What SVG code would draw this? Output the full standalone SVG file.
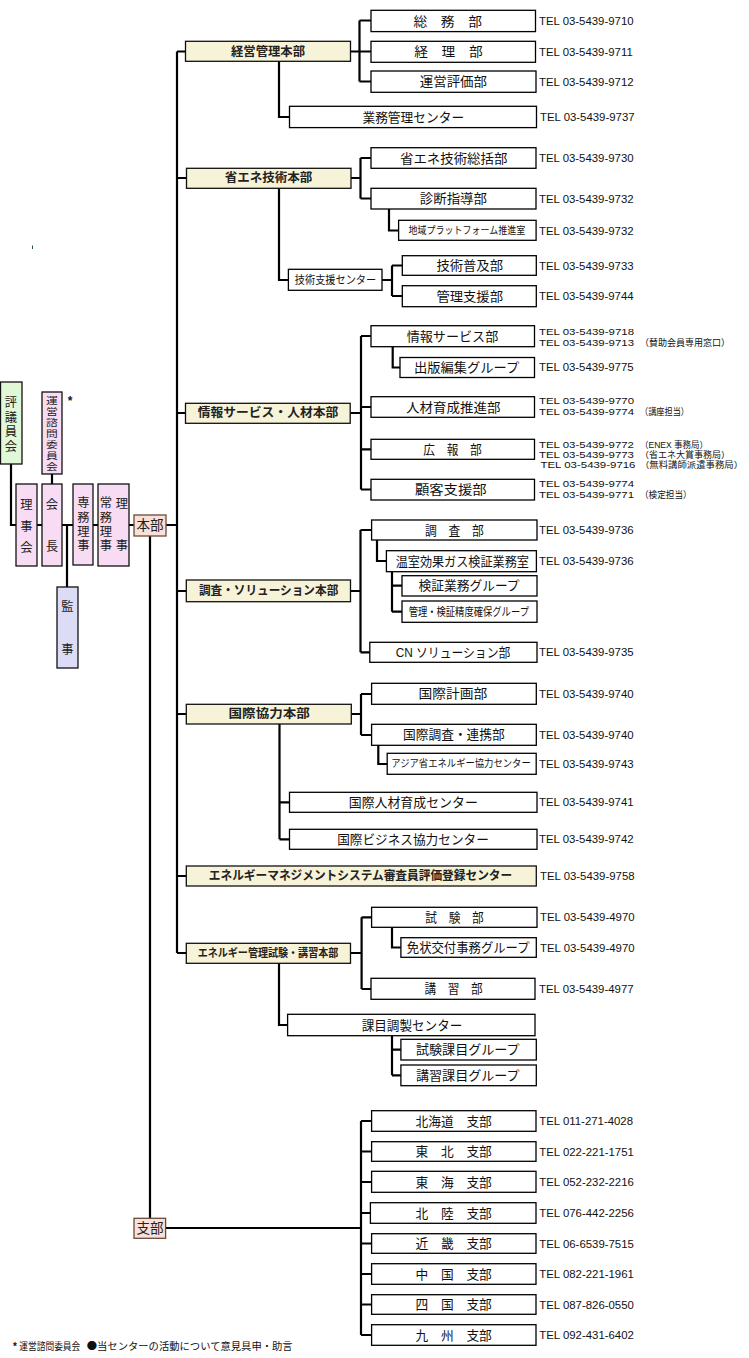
<svg xmlns="http://www.w3.org/2000/svg" width="749" height="1358" viewBox="0 0 749 1358">
<style>
.c{stroke:#000;stroke-width:2.2;fill:none}
.b{fill:#fff;stroke:#000;stroke-width:1.3}
.h{fill:#f6f3d8;stroke:#111;stroke-width:1.3}
.g{fill:#e0f7d8;stroke:#111;stroke-width:1.3}
.p{fill:#f8dcf3;stroke:#111;stroke-width:1.3}
.v{fill:#dcdcf6;stroke:#111;stroke-width:1.3}
.s{fill:#f9e1d9;stroke:#6b4a3a;stroke-width:1.3}
text{font-family:"Liberation Sans","Noto Sans CJK JP","Noto Sans CJK SC",sans-serif;fill:#111;dominant-baseline:central}
.l{font-size:13px;text-anchor:middle}
.hl{font-size:12.5px;font-weight:bold;text-anchor:middle;fill:#222}
.vt{font-size:12.3px;text-anchor:middle;fill:#222}
.vs{font-size:11.8px;text-anchor:middle;fill:#222}
.tel{font-size:11.4px}
.tm{font-size:9.5px}
.t3{font-size:8.7px}
.par{font-size:9.5px}
.p3{font-size:8.7px}
.note{font-size:10px;font-family:"Noto Sans CJK JP",sans-serif}
</style>

<g id="connectors">
  <path class="c" d="M177,51.5 V953"/>
  <path class="c" d="M177,51.5 H186 M177,178 H186 M177,413 H186 M177,591 H186 M177,714 H186 M177,876 H186 M177,953 H186"/>
  <path class="c" d="M11,464 V525 H177"/>
  <path class="c" d="M52,474 V484"/>
  <path class="c" d="M67,525 V587"/>
  <path class="c" d="M150,536 V1218"/>
  <path class="c" d="M166,1228 H361 M361,1121 V1335"/>
  <path class="c" d="M361,1121 H372 M361,1151.5 H372 M361,1182 H372 M361,1213 H371 M361,1243.5 H372 M361,1274 H372 M361,1304.5 H372 M361,1335 H372"/>
  <path class="c" d="M350,51.5 H359.5 M359.5,20.5 V81.5 M359.5,20.5 H371 M359.5,51.5 H371 M359.5,81.5 H371"/>
  <path class="c" d="M279,61 V117 H289.5"/>
  <path class="c" d="M351,178 H360.5 M360.5,158 V198.5 M360.5,158 H371 M360.5,198.5 H371"/>
  <path class="c" d="M389,209 V230.5 H398.6"/>
  <path class="c" d="M279,188 V280 H288.5 M382,280 H392 M392,265.5 V296 M392,265.5 H402 M392,296 H402"/>
  <path class="c" d="M350,413 H361 M361,336 V489.5 M361,336 H371 M361,407 H371 M361,449.3 H371 M361,489.5 H371"/>
  <path class="c" d="M392.7,346.7 V367.5 H400"/>
  <path class="c" d="M350.5,591 H360.5 M360.5,530 V652.3 M360.5,530 H371.6 M360.5,652.3 H370"/>
  <path class="c" d="M377,540 V561 H386.4"/>
  <path class="c" d="M392,571.7 V611.7 M392,585.7 H402 M392,611.7 H402"/>
  <path class="c" d="M351,714 H361 M361,694 V735 M361,694 H371.6 M361,735 H371.6"/>
  <path class="c" d="M378.3,745.3 V764 H387.2"/>
  <path class="c" d="M279.5,724 V839.3 M279.5,802.3 H289.5 M279.5,839.3 H289.5"/>
  <path class="c" d="M350.5,953 H361.6 M361.6,917.3 V989 M361.6,917.3 H371.6 M361.6,989 H371"/>
  <path class="c" d="M392,927.3 V947.5 H401"/>
  <path class="c" d="M279,963.3 V1025 H287.6"/>
  <path class="c" d="M392,1035.7 V1075.3 M392,1049.7 H401 M392,1075.3 H401"/>
</g>

<line x1="32.5" y1="245.5" x2="32.5" y2="249" stroke="#2f4f4f" stroke-width="1"/>

<g id="hyogiinkai"><rect class="g" x="0.5" y="382" width="21.5" height="82"/>
  <text class="vt"><tspan x="11" y="403">評</tspan><tspan x="11" y="417.7">議</tspan><tspan x="11" y="432.4">員</tspan><tspan x="11" y="447">会</tspan></text></g>
<g id="uneishimon"><rect class="p" x="42" y="392" width="20" height="82"/>
  <text class="vs" transform="translate(52,0) scale(1,0.8)"><tspan x="0" y="500">運</tspan><tspan x="0" y="513.75">営</tspan><tspan x="0" y="527.5">諮</tspan><tspan x="0" y="541.25">問</tspan><tspan x="0" y="555">委</tspan><tspan x="0" y="568.75">員</tspan><tspan x="0" y="582.5">会</tspan></text>
  <text x="70" y="401" style="font-size:12px;font-weight:bold;text-anchor:middle">*</text></g>
<g id="rijikai"><rect class="p" x="16" y="484" width="21" height="82"/>
  <text class="vt"><tspan x="26.5" y="505">理</tspan><tspan x="26.5" y="526.5">事</tspan><tspan x="26.5" y="547.5">会</tspan></text></g>
<g id="kaicho"><rect class="p" x="42" y="484" width="20" height="82"/>
  <text class="vt"><tspan x="52" y="505">会</tspan><tspan x="52" y="546.5">長</tspan></text></g>
<g id="senmu"><rect class="p" x="73" y="484" width="20" height="81"/>
  <text class="vt"><tspan x="83.3" y="503.3">専</tspan><tspan x="83.3" y="517.5">務</tspan><tspan x="83.3" y="531.7">理</tspan><tspan x="83.3" y="546">事</tspan></text></g>
<g id="jomu"><rect class="p" x="98" y="484" width="31" height="82"/>
  <text class="vt"><tspan x="106" y="503.3">常</tspan><tspan x="106" y="517.5">務</tspan><tspan x="106" y="531.7">理</tspan><tspan x="106" y="546">事</tspan></text>
  <text class="vt"><tspan x="122" y="504">理</tspan><tspan x="122" y="546">事</tspan></text></g>
<g id="kanji"><rect class="v" x="57" y="587" width="21" height="81"/>
  <text class="vt"><tspan x="67.5" y="607.3">監</tspan><tspan x="67.5" y="650">事</tspan></text></g>
<g id="honbu"><rect class="s" x="134" y="515" width="32" height="21"/>
  <text class="vt" style="font-size:13.5px" x="150" y="525.8">本部</text></g>
<g id="shibu"><rect class="s" x="134" y="1218.3" width="31.6" height="20"/>
  <text class="vt" style="font-size:13.5px" x="150" y="1228.5">支部</text></g>

<g id="keiei"><rect class="h" x="185.5" y="41.3" width="165" height="20"/><text class="hl" x="268" y="51.5" textLength="74" lengthAdjust="spacingAndGlyphs">経営管理本部</text></g>
<g id="somu"><rect class="b" x="371" y="10.3" width="164.5" height="21.3"/><text class="l" x="447.7" y="21" textLength="68.5" lengthAdjust="spacingAndGlyphs">総　務　部</text><text class="tel" x="539" y="21">TEL 03-5439-9710</text></g>
<g id="keiri"><rect class="b" x="371" y="41.3" width="164.5" height="21"/><text class="l" x="448.4" y="51.8" textLength="68.4" lengthAdjust="spacingAndGlyphs">経　理　部</text><text class="tel" x="539" y="51.8">TEL 03-5439-9711</text></g>
<g id="unei"><rect class="b" x="371" y="71" width="165" height="21.3"/><text class="l" x="453.4" y="81.7" textLength="67.3" lengthAdjust="spacingAndGlyphs">運営評価部</text><text class="tel" x="539" y="81.7">TEL 03-5439-9712</text></g>
<g id="gyomu"><rect class="b" x="289.5" y="106.3" width="247" height="21.3"/><text class="l" x="413.3" y="117" textLength="101.7" lengthAdjust="spacingAndGlyphs">業務管理センター</text><text class="tel" x="540" y="117">TEL 03-5439-9737</text></g>

<g id="shoene"><rect class="h" x="186.5" y="168.3" width="164.5" height="20"/><text class="hl" x="268.6" y="178.3" textLength="87.6" lengthAdjust="spacingAndGlyphs">省エネ技術本部</text></g>
<g id="sokatsu"><rect class="b" x="371" y="147.7" width="165" height="20.6"/><text class="l" x="453.7" y="158" textLength="107.4" lengthAdjust="spacingAndGlyphs">省エネ技術総括部</text><text class="tel" x="539" y="158">TEL 03-5439-9730</text></g>
<g id="shindan"><rect class="b" x="371" y="188.3" width="165" height="20.7"/><text class="l" x="453.4" y="198.6" textLength="67.3" lengthAdjust="spacingAndGlyphs">診断指導部</text><text class="tel" x="539" y="198.6">TEL 03-5439-9732</text></g>
<g id="chiiki"><rect class="b" x="398.6" y="220.3" width="137.5" height="20"/><text class="l" style="font-size:10.1px" x="466.9" y="230.5" textLength="116.6" lengthAdjust="spacingAndGlyphs">地域プラットフォーム推進室</text><text class="tel" x="539" y="230.5">TEL 03-5439-9732</text></g>
<g id="gijutsushien"><rect class="b" x="288.4" y="269.3" width="93.6" height="21"/><text class="l" style="font-size:11.5px" x="335.5" y="280" textLength="81.4" lengthAdjust="spacingAndGlyphs">技術支援センター</text></g>
<g id="fukyu"><rect class="b" x="402.3" y="255.7" width="134" height="19.6"/><text class="l" x="469.7" y="265.5" textLength="66.6" lengthAdjust="spacingAndGlyphs">技術普及部</text><text class="tel" x="539" y="265.5">TEL 03-5439-9733</text></g>
<g id="kanrishien"><rect class="b" x="402.3" y="285.7" width="134" height="21"/><text class="l" x="469.7" y="296.2" textLength="66.6" lengthAdjust="spacingAndGlyphs">管理支援部</text><text class="tel" x="539" y="296.2">TEL 03-5439-9744</text></g>

<g id="joho"><rect class="h" x="185.5" y="403.3" width="164.7" height="20"/><text class="hl" x="268" y="413.3" textLength="140.6" lengthAdjust="spacingAndGlyphs">情報サービス・人材本部</text></g>
<g id="johoservice"><rect class="b" x="371" y="325.7" width="163.5" height="21"/><text class="l" x="452.5" y="336.2" textLength="91.6" lengthAdjust="spacingAndGlyphs">情報サービス部</text>
  <text class="tm" x="539" y="331.5" textLength="95" lengthAdjust="spacingAndGlyphs">TEL 03-5439-9718</text>
  <text class="tm" x="539" y="342.6" textLength="95" lengthAdjust="spacingAndGlyphs">TEL 03-5439-9713</text>
  <text class="par" x="640" y="342.6" textLength="90" lengthAdjust="spacingAndGlyphs">（賛助会員専用窓口）</text></g>
<g id="shuppan"><rect class="b" x="400" y="357.5" width="134.5" height="20"/><text class="l" x="466.7" y="367.5" textLength="105.3" lengthAdjust="spacingAndGlyphs">出版編集グループ</text><text class="tel" x="539" y="367.3">TEL 03-5439-9775</text></g>
<g id="jinzai"><rect class="b" x="371" y="396.7" width="163.5" height="20.6"/><text class="l" x="453.2" y="407" textLength="94.4" lengthAdjust="spacingAndGlyphs">人材育成推進部</text>
  <text class="tm" x="539" y="400.5" textLength="95" lengthAdjust="spacingAndGlyphs">TEL 03-5439-9770</text>
  <text class="tm" x="539" y="411.7" textLength="95" lengthAdjust="spacingAndGlyphs">TEL 03-5439-9774</text>
  <text class="par" x="640" y="411.7" textLength="49" lengthAdjust="spacingAndGlyphs">（講座担当）</text></g>
<g id="koho"><rect class="b" x="371" y="439.3" width="163.5" height="20"/><text class="l" x="452.5" y="449.3" textLength="58.4" lengthAdjust="spacingAndGlyphs">広　報　部</text>
  <text class="t3" x="539" y="445" textLength="95" lengthAdjust="spacingAndGlyphs">TEL 03-5439-9772</text>
  <text class="p3" x="640" y="445" textLength="68" lengthAdjust="spacingAndGlyphs">（ENEX 事務局）</text>
  <text class="t3" x="539" y="455" textLength="95" lengthAdjust="spacingAndGlyphs">TEL 03-5439-9773</text>
  <text class="p3" x="640" y="455" textLength="90" lengthAdjust="spacingAndGlyphs">（省エネ大賞事務局）</text>
  <text class="t3" x="540.5" y="465" textLength="95" lengthAdjust="spacingAndGlyphs">TEL 03-5439-9716</text>
  <text class="p3" x="640" y="465" textLength="103" lengthAdjust="spacingAndGlyphs">（無料講師派遣事務局）</text></g>
<g id="kokyaku"><rect class="b" x="371" y="479.3" width="163.5" height="20.7"/><text class="l" x="450.8" y="489.7" textLength="71.7" lengthAdjust="spacingAndGlyphs">顧客支援部</text>
  <text class="tm" x="539" y="483.3" textLength="95" lengthAdjust="spacingAndGlyphs">TEL 03-5439-9774</text>
  <text class="tm" x="539" y="494" textLength="95" lengthAdjust="spacingAndGlyphs">TEL 03-5439-9771</text>
  <text class="par" x="640" y="494" textLength="51.7" lengthAdjust="spacingAndGlyphs">（検定担当）</text></g>

<g id="chosa"><rect class="h" x="186.3" y="580" width="164.2" height="21.7"/><text class="hl" x="268.6" y="590.8" textLength="139.4" lengthAdjust="spacingAndGlyphs">調査・ソリューション本部</text></g>
<g id="chosabu"><rect class="b" x="371.6" y="520" width="165.4" height="20"/><text class="l" x="454.4" y="530" textLength="58.7" lengthAdjust="spacingAndGlyphs">調　査　部</text><text class="tel" x="539" y="530">TEL 03-5439-9736</text></g>
<g id="onshitsu"><rect class="b" x="386.4" y="550.7" width="150" height="21"/><text class="l" x="462.3" y="561.2" textLength="133.2" lengthAdjust="spacingAndGlyphs">温室効果ガス検証業務室</text><text class="tel" x="539" y="561">TEL 03-5439-9736</text></g>
<g id="kensho"><rect class="b" x="402" y="575.7" width="135" height="20.3"/><text class="l" x="469.1" y="585.8" textLength="101" lengthAdjust="spacingAndGlyphs">検証業務グループ</text></g>
<g id="seido"><rect class="b" x="402" y="601" width="135" height="21.3"/><text class="l" style="font-size:11.5px" x="468.8" y="611.7" textLength="120.3" lengthAdjust="spacingAndGlyphs">管理・検証精度確保グループ</text></g>
<g id="cn"><rect class="b" x="369.8" y="642.3" width="167.2" height="20"/><text class="l" x="453" y="652.3" textLength="114.7" lengthAdjust="spacingAndGlyphs">CN ソリューション部</text><text class="tel" x="539" y="652.3">TEL 03-5439-9735</text></g>

<g id="kokusai"><rect class="h" x="186.3" y="704.3" width="165" height="19.7"/><text class="hl" x="269.2" y="714.2" textLength="81.3" lengthAdjust="spacingAndGlyphs">国際協力本部</text></g>
<g id="keikaku"><rect class="b" x="371.6" y="683.3" width="164.7" height="21"/><text class="l" x="453" y="693.8" textLength="68.8" lengthAdjust="spacingAndGlyphs">国際計画部</text><text class="tel" x="539" y="694">TEL 03-5439-9740</text></g>
<g id="renkei"><rect class="b" x="371.6" y="724.3" width="164.7" height="21"/><text class="l" x="453.9" y="734.8" textLength="101.8" lengthAdjust="spacingAndGlyphs">国際調査・連携部</text><text class="tel" x="539" y="735">TEL 03-5439-9740</text></g>
<g id="asia"><rect class="b" x="387.2" y="753.3" width="149" height="21"/><text class="l" style="font-size:10.2px" x="461" y="763.8" textLength="139.5" lengthAdjust="spacingAndGlyphs">アジア省エネルギー協力センター</text><text class="tel" x="539" y="764">TEL 03-5439-9743</text></g>
<g id="kokusaijinzai"><rect class="b" x="289.5" y="792.3" width="247.5" height="20"/><text class="l" x="413.3" y="802.3" textLength="129.1" lengthAdjust="spacingAndGlyphs">国際人材育成センター</text><text class="tel" x="539" y="802.3">TEL 03-5439-9741</text></g>
<g id="business"><rect class="b" x="289.5" y="829.3" width="247.5" height="20"/><text class="l" x="413" y="839.3" textLength="151.7" lengthAdjust="spacingAndGlyphs">国際ビジネス協力センター</text><text class="tel" x="539" y="839.3">TEL 03-5439-9742</text></g>

<g id="enemane"><rect class="h" x="186.3" y="866" width="350" height="20"/><text class="hl" x="360.5" y="876" textLength="303.4" lengthAdjust="spacingAndGlyphs">エネルギーマネジメントシステム審査員評価登録センター</text><text class="tel" x="540" y="876">TEL 03-5439-9758</text></g>

<g id="shiken"><rect class="h" x="186.3" y="943.3" width="164.2" height="20"/><text class="hl" style="font-size:11px" x="268" y="953.3" textLength="140.6" lengthAdjust="spacingAndGlyphs">エネルギー管理試験・講習本部</text></g>
<g id="shikenbu"><rect class="b" x="371.6" y="907.3" width="165.4" height="20"/><text class="l" x="454.5" y="917.3" textLength="58.4" lengthAdjust="spacingAndGlyphs">試　験　部</text><text class="tel" x="540" y="917.3">TEL 03-5439-4970</text></g>
<g id="menjo"><rect class="b" x="400.9" y="937.7" width="135.4" height="19.6"/><text class="l" x="468.2" y="947.5" textLength="122.8" lengthAdjust="spacingAndGlyphs">免状交付事務グループ</text><text class="tel" x="540" y="947.5">TEL 03-5439-4970</text></g>
<g id="koshu"><rect class="b" x="371" y="978.3" width="164" height="21"/><text class="l" x="453.6" y="988.8" textLength="58.1" lengthAdjust="spacingAndGlyphs">講　習　部</text><text class="tel" x="539" y="989">TEL 03-5439-4977</text></g>
<g id="kamoku"><rect class="b" x="287.6" y="1014.3" width="247.4" height="21.4"/><text class="l" x="412" y="1025" textLength="100.7" lengthAdjust="spacingAndGlyphs">課目調製センター</text></g>
<g id="shikenkamoku"><rect class="b" x="400.9" y="1039.3" width="135.4" height="20.7"/><text class="l" x="467.8" y="1049.7" textLength="103.6" lengthAdjust="spacingAndGlyphs">試験課目グループ</text></g>
<g id="koshukamoku"><rect class="b" x="400.9" y="1065" width="135.4" height="20.7"/><text class="l" x="467.8" y="1075.3" textLength="103.6" lengthAdjust="spacingAndGlyphs">講習課目グループ</text></g>

<g id="hokkaido"><rect class="b" x="371.6" y="1110.7" width="164.4" height="20.6"/><text class="l" x="453.7" y="1121" textLength="76.3" lengthAdjust="spacingAndGlyphs">北海道　支部</text><text class="tel" x="539.3" y="1121">TEL 011-271-4028</text></g>
<g id="tohoku"><rect class="b" x="371.6" y="1141.7" width="164.4" height="19.6"/><text class="l" x="453.7" y="1151.5" textLength="76.3" lengthAdjust="spacingAndGlyphs">東　北　支部</text><text class="tel" x="539.3" y="1151.5">TEL 022-221-1751</text></g>
<g id="tokai"><rect class="b" x="371.6" y="1171.3" width="164.4" height="21"/><text class="l" x="453.7" y="1182" textLength="76.3" lengthAdjust="spacingAndGlyphs">東　海　支部</text><text class="tel" x="539.3" y="1182">TEL 052-232-2216</text></g>
<g id="hokuriku"><rect class="b" x="370.4" y="1202.7" width="165.6" height="20.6"/><text class="l" x="453.7" y="1213" textLength="76.3" lengthAdjust="spacingAndGlyphs">北　陸　支部</text><text class="tel" x="539.3" y="1213">TEL 076-442-2256</text></g>
<g id="kinki"><rect class="b" x="371.6" y="1233.7" width="164.4" height="19.6"/><text class="l" x="453.7" y="1243.5" textLength="76.3" lengthAdjust="spacingAndGlyphs">近　畿　支部</text><text class="tel" x="539.3" y="1243.5">TEL 06-6539-7515</text></g>
<g id="chugoku"><rect class="b" x="371.6" y="1263.7" width="164.4" height="20.6"/><text class="l" x="453.7" y="1274" textLength="76.3" lengthAdjust="spacingAndGlyphs">中　国　支部</text><text class="tel" x="539.3" y="1274">TEL 082-221-1961</text></g>
<g id="shikoku"><rect class="b" x="371.6" y="1294.7" width="164.4" height="19.6"/><text class="l" x="453.7" y="1304.5" textLength="76.3" lengthAdjust="spacingAndGlyphs">四　国　支部</text><text class="tel" x="539.3" y="1304.5">TEL 087-826-0550</text></g>
<g id="kyushu"><rect class="b" x="371.6" y="1324.7" width="164.4" height="20.6"/><text class="l" x="453.7" y="1335" textLength="76.3" lengthAdjust="spacingAndGlyphs">九　州　支部</text><text class="tel" x="539.3" y="1335">TEL 092-431-6402</text></g>

<g id="note">
  <text class="note" x="13" y="1346" style="font-family:'Liberation Sans',sans-serif;font-weight:bold">*</text>
  <text class="note" x="19.3" y="1345" textLength="61" lengthAdjust="spacingAndGlyphs">運営諮問委員会</text>
  <text class="note" x="86.7" y="1345" textLength="206" lengthAdjust="spacingAndGlyphs">●当センターの活動について意見具申・助言</text>
</g>
</svg>
